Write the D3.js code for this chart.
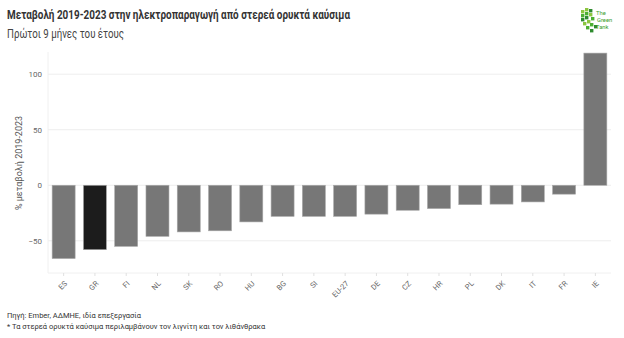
<!DOCTYPE html>
<html><head><meta charset="utf-8">
<script src="https://cdn.jsdelivr.net/npm/d3@7"></script>
<style>body{margin:0;background:#fff}svg{display:block;font-family:Roboto,"Noto Sans",sans-serif}</style>
</head><body><svg id="c" width="624" height="338"></svg>
<script>
const countries = ["ES","GR","FI","NL","SK","RO","HU","BG","SI","EU-27","DE","CZ","HR","PL","DK","IT","FR","IE"];
const changes = [-66,-58,-55,-46,-42,-41,-33,-28,-28,-28,-26,-22.5,-21,-17.5,-17,-15,-8,119];
const highlight = ["GR"];
const yTicks = [-50,0,50,100];
const title = "Μεταβολή 2019-2023 στην ηλεκτροπαραγωγή από στερεά ορυκτά καύσιμα";
const subtitle = "Πρώτοι 9 μήνες του έτους";
const yTitle = "% μεταβολή 2019-2023";
const notes = ["Πηγή: Ember, ΑΔΜΗΕ, ιδία επεξεργασία","* Τα στερεά ορυκτά καύσιμα περιλαμβάνουν τον λιγνίτη και τον λιθάνθρακα"];
const logoWords = ["The","Green","Tank"];

const data = countries.map((c,i)=>({c, v:changes[i]}));
const svg = d3.select("#c");
const L=48, R=611, T=52, B=273;
const x = d3.scaleBand().domain(countries).range([L,R]).paddingInner(0.265).paddingOuter(0.1325);
const y = d3.scaleLinear().domain([-79,120]).range([B,T]);

// gridlines
svg.append("g").selectAll("line").data(yTicks).join("line")
  .attr("x1",L).attr("x2",R).attr("y1",d=>y(d)).attr("y2",d=>y(d))
  .attr("stroke","#ebebeb").attr("stroke-width",0.9);
// axis lines
svg.append("line").attr("x1",L).attr("x2",L).attr("y1",T).attr("y2",B).attr("stroke","#f0f0f0");
svg.append("line").attr("x1",L).attr("x2",R).attr("y1",B).attr("y2",B).attr("stroke","#f0f0f0");

// bars
svg.append("g").selectAll("rect").data(data).join("rect")
  .attr("x",d=>x(d.c)).attr("width",x.bandwidth())
  .attr("y",d=>y(Math.max(0,d.v))).attr("height",d=>Math.abs(y(d.v)-y(0)))
  .attr("fill",d=>highlight.includes(d.c)?"#1c1c1c":"#777777")
  .attr("stroke","#a8a8a8").attr("stroke-width",0.6);

// y axis
const ya = svg.append("g").attr("transform",`translate(${L},0)`)
  .call(d3.axisLeft(y).tickValues(yTicks).tickSize(0).tickPadding(6));
ya.select(".domain").remove();
ya.selectAll("text").attr("fill","#666").attr("font-size",8).attr("font-family","Roboto,sans-serif");

// x axis
const xa = svg.append("g").attr("transform",`translate(0,${B})`)
  .call(d3.axisBottom(x).tickSize(3));
xa.select(".domain").remove();
xa.selectAll("line").attr("stroke","#e0e0e0");
xa.selectAll("text").attr("fill","#666").attr("font-size",7.5).attr("font-family","Roboto,sans-serif")
  .attr("text-anchor","end").attr("dy",0).attr("y",0)
  .attr("transform","translate(4,11) rotate(-45)");

// y title
svg.append("text").attr("transform","translate(22,163) rotate(-90)").attr("text-anchor","middle")
  .attr("font-size",9).attr("fill","#555").text(yTitle);

// titles
svg.append("text").attr("x",7).attr("y",19).attr("font-size",13).attr("font-weight","bold")
  .attr("fill","#333").attr("textLength",343).attr("lengthAdjust","spacingAndGlyphs").text(title);
svg.append("text").attr("x",7).attr("y",38).attr("font-size",12.5).attr("fill","#444")
  .attr("textLength",117).attr("lengthAdjust","spacingAndGlyphs").text(subtitle);

// notes
svg.selectAll(".note").data(notes).join("text").attr("class","note")
  .attr("x",7).attr("y",(d,i)=>318+i*11).attr("font-size",7.5).attr("fill","#333").text(d=>d);

// logo
const lg = svg.append("g").attr("transform","translate(581,8)");
const sq = [[0,2],[0,6],[0,10],[2,14],[5,18],[9,21],[4,0],[4,4],[4,8],[6,12],[9,15],[8,1],[8,5],[10,9],[13,17]];
lg.selectAll("rect").data(sq).join("rect").attr("x",d=>d[0]).attr("y",d=>d[1]).attr("width",3.4).attr("height",3.4)
  .attr("fill",(d,i)=>i%3===0?"#8cc63f":(i%3===1?"#4caf32":"#2e8b2e"));
lg.selectAll(".lw").data(logoWords).join("text").attr("class","lw")
  .attr("x",(d,i)=>i===1?16:15).attr("y",(d,i)=>7+i*7.2).attr("font-size",5.8).attr("fill","#3a9d2a").text(d=>d);
</script></body></html>
